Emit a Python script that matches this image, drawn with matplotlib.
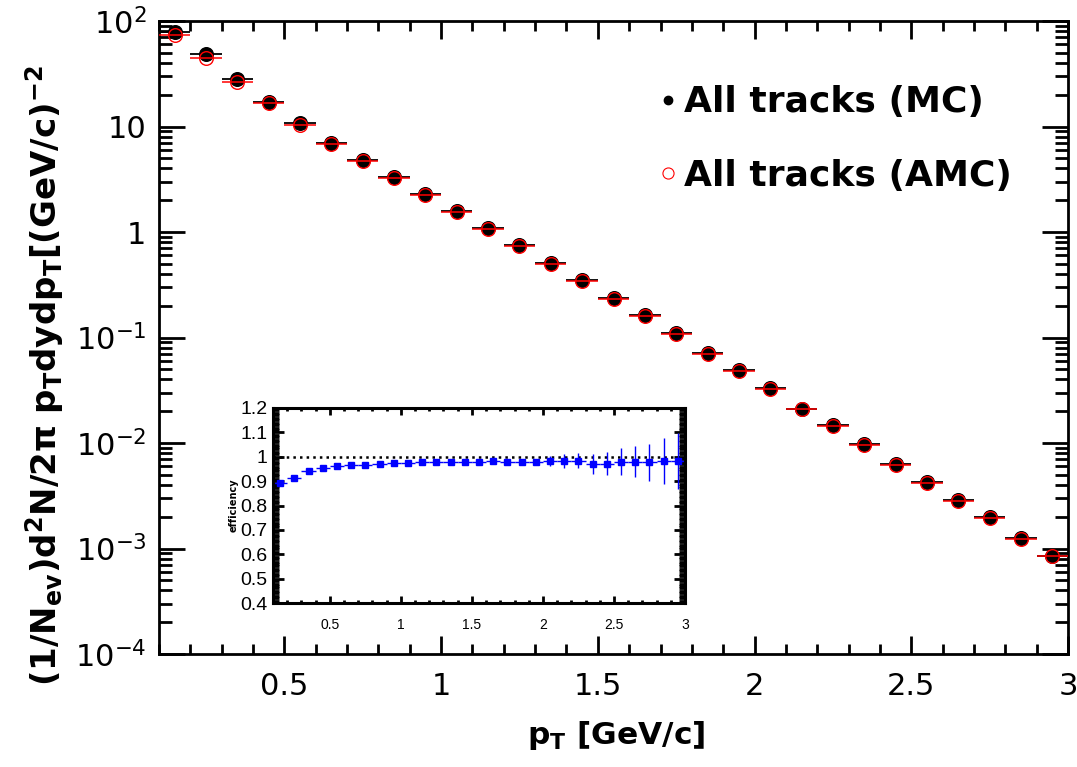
import numpy as np
import matplotlib
matplotlib.use("Agg")
from matplotlib import pyplot as plt
from matplotlib.lines import Line2D
from matplotlib.ticker import FixedLocator, MultipleLocator, LogLocator, NullFormatter, FixedFormatter

plt.rcParams['font.family'] = ['DejaVu Sans']
plt.rcParams['mathtext.default'] = 'regular'

# pT bins (centres, half width 0.05 GeV/c)
pt = np.round(np.arange(0.15, 3.0, 0.1), 2)
pt_half = np.full(pt.shape, 0.05)

# spectra
spec_mc = np.array([78.8, 48.3, 28.0, 17.2, 10.7, 7.03, 4.84, 3.32, 2.31, 1.58,
                    1.09, 0.753, 0.508, 0.351, 0.237, 0.163, 0.110, 0.0713, 0.0492, 0.0332,
                    0.0210, 0.0148, 0.00972, 0.00633, 0.00424, 0.00288, 0.00198, 0.00125, 0.00085])
spec_amc = np.array([73.6, 44.9, 26.6, 16.7, 10.4, 6.85, 4.72, 3.24, 2.26, 1.55,
                     1.07, 0.740, 0.500, 0.345, 0.233, 0.160, 0.108, 0.0703, 0.0486, 0.0328,
                     0.0208, 0.0146, 0.0096, 0.00625, 0.00420, 0.00285, 0.00196, 0.00124, 0.00084])

# efficiency
eff = np.array([0.893, 0.911, 0.942, 0.954, 0.961, 0.965, 0.968, 0.971, 0.975, 0.975,
                0.978, 0.978, 0.978, 0.978, 0.978, 0.982, 0.978, 0.978, 0.978, 0.983,
                0.983, 0.983, 0.971, 0.971, 0.980, 0.980, 0.978, 0.983, 0.983])
eff_err = np.array([0.002, 0.002, 0.002, 0.002, 0.002, 0.002, 0.002, 0.003, 0.003, 0.003,
                    0.003, 0.003, 0.004, 0.004, 0.004, 0.005, 0.005, 0.006, 0.008, 0.021,
                    0.028, 0.031, 0.040, 0.047, 0.054, 0.064, 0.076, 0.093, 0.114])

W, H = 1077, 767
fig = plt.figure(figsize=(W / 100, H / 100), dpi=100)
ax = fig.add_axes([159 / W, 1 - 654 / H, (1068 - 159) / W, (654 - 21) / H])

ax.errorbar(pt, spec_mc, xerr=pt_half, fmt='o', color='black', ms=9.8, elinewidth=1.3,
            capsize=0, zorder=3)
ax.errorbar(pt, spec_amc, xerr=pt_half, fmt='o', mfc='none', mec='red', ecolor='red',
            ms=9.8, mew=1.0, elinewidth=1.1, capsize=0, zorder=4)

ax.set_yscale('log')
ax.set_xlim(0.1, 3.0)
ax.set_ylim(1e-4, 1e2)
ax.xaxis.set_major_locator(FixedLocator([0.5, 1, 1.5, 2, 2.5, 3]))
ax.xaxis.set_major_formatter(FixedFormatter(['0.5', '1', '1.5', '2', '2.5', '3']))
ax.xaxis.set_minor_locator(MultipleLocator(0.1))
decades = [1e-4, 1e-3, 1e-2, 1e-1, 1, 10, 100]
ax.yaxis.set_major_locator(FixedLocator(decades))
ax.yaxis.set_major_formatter(FixedFormatter([r'$10^{-4}$', r'$10^{-3}$', r'$10^{-2}$',
                                             r'$10^{-1}$', '1', '10', r'$10^{2}$']))
ax.yaxis.set_minor_locator(LogLocator(base=10, subs=np.arange(2, 10), numticks=20))
ax.yaxis.set_minor_formatter(NullFormatter())
ax.tick_params(axis='both', which='both', direction='in', top=True, right=True, width=2)
ax.tick_params(axis='y', which='major', length=19, pad=9, labelsize=22)
ax.tick_params(axis='y', which='minor', length=9.5)
ax.tick_params(axis='x', which='major', length=13, pad=13, labelsize=22)
ax.tick_params(axis='x', which='minor', length=7)
for s in ax.spines.values():
    s.set_linewidth(2)

fig.text(616 / W, 1 - 735 / H, r'p$_{T}$ [GeV/c]', ha='center', va='center',
         fontsize=22.5, fontweight='bold')
fig.text(45 / W, 1 - 376 / H,
         r'(1/N$_{ev}$)d$^{2}$N/2$\pi$ p$_{T}$dydp$_{T}$[(GeV/c)$^{-2}$',
         rotation=90, ha='center', va='center', fontsize=24.5, fontweight='bold')

handles = [Line2D([], [], ls='', marker='o', color='black', ms=6),
           Line2D([], [], ls='', marker='o', mfc='none', mec='red', mew=0.8, ms=8)]
ax.legend(handles, ['All tracks (MC)', 'All tracks (AMC)'], loc='upper left',
          bbox_to_anchor=(0.532, 0.927), frameon=False, handlelength=0.4,
          handletextpad=0.25, labelspacing=1.1, borderpad=0,
          prop={'weight': 'bold', 'size': 26})

# efficiency inset
ins = fig.add_axes([273 / W, 1 - 603 / H, (685 - 273) / W, (603 - 408) / H])
ins.axhline(1.0, color='black', ls=':', lw=1.8)
ins.errorbar(pt, eff, xerr=pt_half, yerr=eff_err, fmt='s', color='blue', ms=3.8,
             elinewidth=1.0, capsize=0)
ins.set_xlim(0.1, 3.0)
ins.set_ylim(0.4, 1.2)
ins.xaxis.set_major_locator(FixedLocator([0.5, 1, 1.5, 2, 2.5, 3]))
ins.xaxis.set_major_formatter(FixedFormatter(['0.5', '1', '1.5', '2', '2.5', '3']))
ins.xaxis.set_minor_locator(MultipleLocator(0.1))
ins.yaxis.set_major_locator(MultipleLocator(0.1))
ins.yaxis.set_major_formatter(plt.FuncFormatter(lambda v, p: f'{v:g}'))
ins.yaxis.set_minor_locator(MultipleLocator(0.01))
ins.tick_params(axis='both', which='both', direction='in', top=True, right=True, width=2)
ins.tick_params(axis='y', which='major', length=8, pad=4, labelsize=14)
ins.tick_params(axis='y', which='minor', length=4)
ins.tick_params(axis='x', which='major', length=5, pad=11, labelsize=10)
ins.tick_params(axis='x', which='minor', length=2.5)
for lab in ins.get_yticklabels() + ins.get_xticklabels():
    lab.set_family(['Liberation Sans'])
for s in ins.spines.values():
    s.set_linewidth(2.2)
ins.set_ylabel('efficiency', fontsize=7, fontweight='bold', labelpad=1)

fig.savefig('out.png', dpi=100)
